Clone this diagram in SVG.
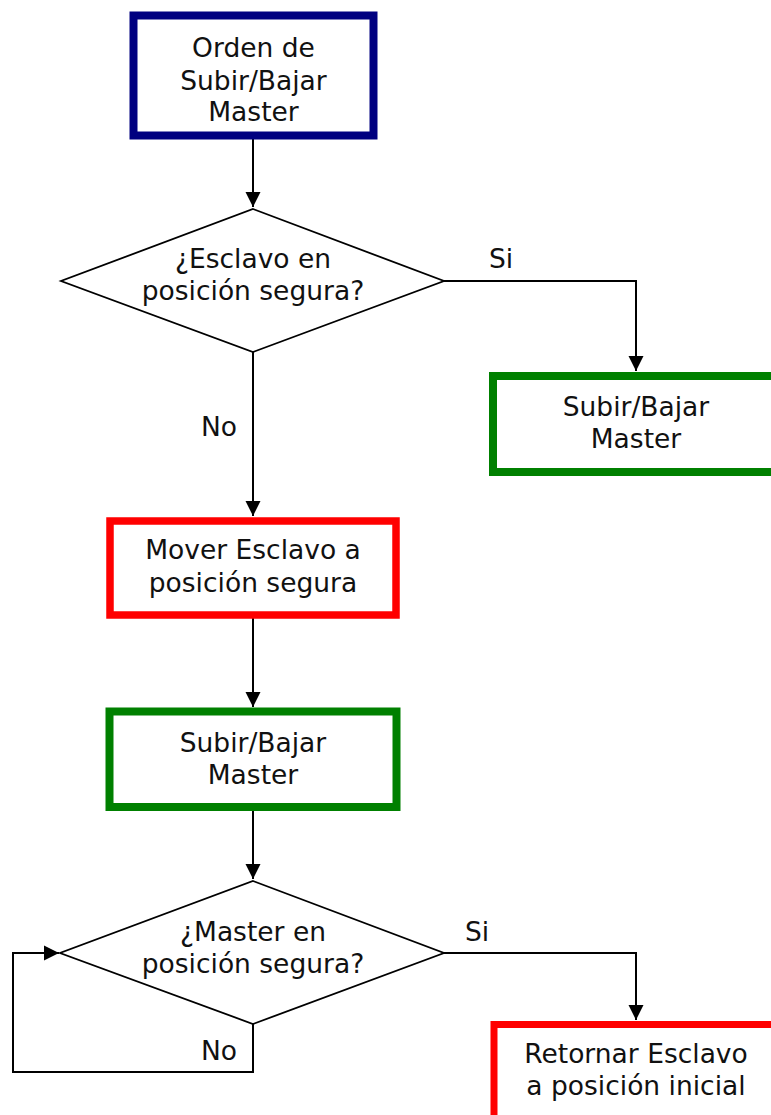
<svg xmlns="http://www.w3.org/2000/svg" width="771" height="1115" viewBox="0 0 771 1115">
<defs>
<marker id="arr" markerUnits="userSpaceOnUse" markerWidth="15" markerHeight="16" refX="15" refY="8" orient="auto">
<path d="M0,0.5 L15,8 L0,15.5 z" fill="#000"/>
</marker>
<style>
.t{font-family:"DejaVu Sans","Verdana",sans-serif;font-size:26.5px;fill:#111;text-anchor:middle}
.l{font-family:"DejaVu Sans","Verdana",sans-serif;font-size:26.5px;fill:#111}
.c{fill:none;stroke:#000;stroke-width:2}
.d{fill:#fff;stroke:#000;stroke-width:1.8}
</style>
</defs>
<rect width="771" height="1115" fill="#fff"/>
<g id="connectors">
<path class="c" d="M253,139 V207" marker-end="url(#arr)"/>
<path class="c" d="M444,281 H636 V371" marker-end="url(#arr)"/>
<path class="c" d="M253,352 V516" marker-end="url(#arr)"/>
<path class="c" d="M253,618 V707" marker-end="url(#arr)"/>
<path class="c" d="M253,811 V879" marker-end="url(#arr)"/>
<path class="c" d="M444,953 H636 V1020" marker-end="url(#arr)"/>
<path class="c" d="M253,1024 V1072 H13 V953 H59" marker-end="url(#arr)"/>
<text class="l" x="489" y="268">Si</text>
<text class="l" x="465" y="941">Si</text>
<text class="l" x="201" y="436">No</text>
<text class="l" x="201" y="1060">No</text>
</g>
<g id="n1">
<rect x="133.5" y="15.5" width="240" height="120" fill="#fff" stroke="#000080" stroke-width="8"/>
<text class="t" x="253.5" y="57">Orden de</text>
<text class="t" x="253.5" y="89.5">Subir/Bajar</text>
<text class="t" x="253.5" y="121">Master</text>
</g>
<g id="n2">
<polygon class="d" points="253,209 444,281 253,352 61,281"/>
<text class="t" x="253" y="268">¿Esclavo en</text>
<text class="t" x="253" y="300">posición segura?</text>
</g>
<g id="n3">
<rect x="493" y="376" width="286" height="96" fill="#fff" stroke="#008000" stroke-width="8"/>
<text class="t" x="636" y="415.5">Subir/Bajar</text>
<text class="t" x="636" y="448">Master</text>
</g>
<g id="n4">
<rect x="110" y="521" width="286" height="94" fill="#fff" stroke="#ff0000" stroke-width="7.5"/>
<text class="t" x="253" y="559">Mover Esclavo a</text>
<text class="t" x="253" y="591.5">posición segura</text>
</g>
<g id="n5">
<rect x="109.5" y="711.5" width="287" height="95.5" fill="#fff" stroke="#008000" stroke-width="8"/>
<text class="t" x="253" y="751.5">Subir/Bajar</text>
<text class="t" x="253" y="784">Master</text>
</g>
<g id="n6">
<polygon class="d" points="253,881 444,953 253,1024 60,953"/>
<text class="t" x="253" y="941">¿Master en</text>
<text class="t" x="253" y="973">posición segura?</text>
</g>
<g id="n7">
<rect x="494" y="1024.5" width="286" height="120" fill="#fff" stroke="#ff0000" stroke-width="7"/>
<text class="t" x="636" y="1063">Retornar Esclavo</text>
<text class="t" x="636" y="1095">a posición inicial</text>
</g>
</svg>
